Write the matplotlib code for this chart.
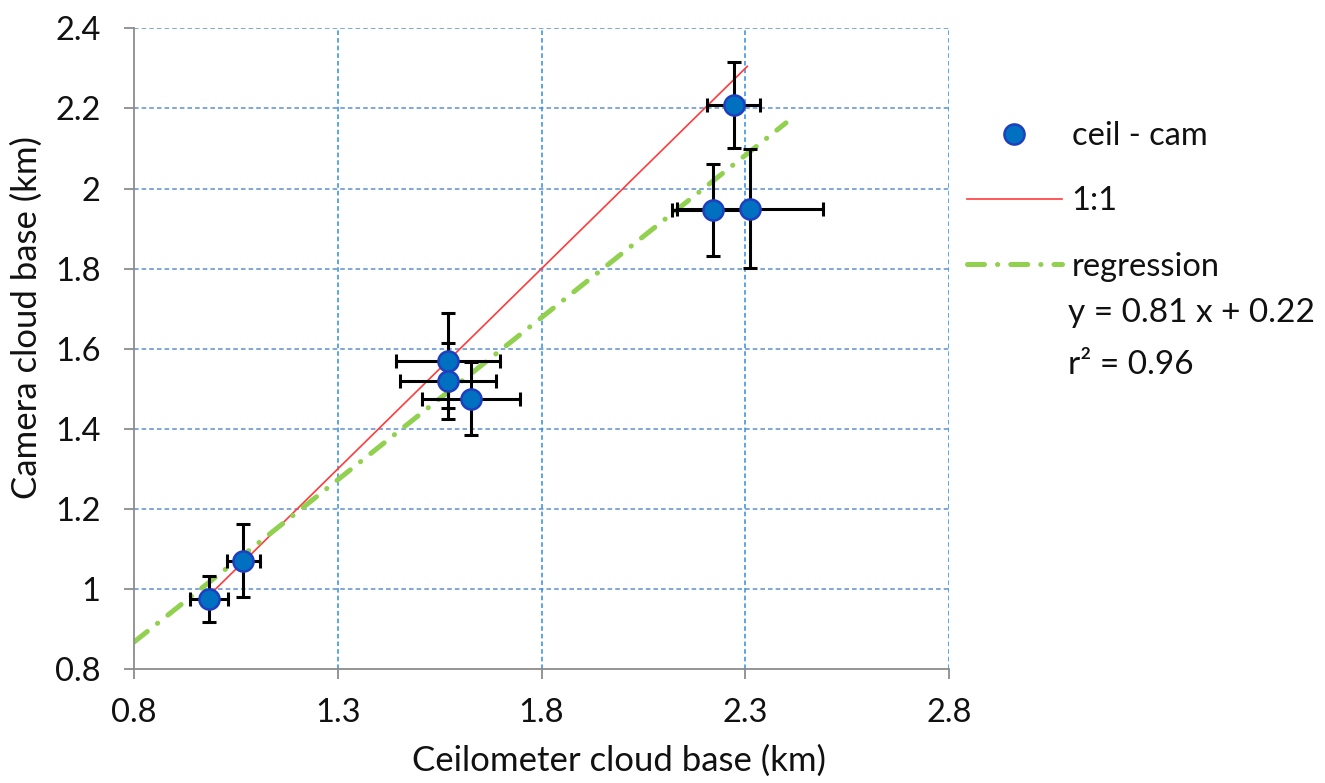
import matplotlib
matplotlib.use("Agg")
import matplotlib.pyplot as plt
import numpy as np

# Data
ceil_x = [0.984, 1.068, 1.571, 1.571, 1.627, 2.272, 2.220, 2.312]
cam_y = [0.975, 1.071, 1.570, 1.520, 1.475, 2.209, 1.947, 1.950]
x_err = [0.046, 0.041, 0.127, 0.118, 0.120, 0.065, 0.100, 0.180]
y_err = [0.058, 0.091, 0.119, 0.094, 0.091, 0.107, 0.115, 0.148]
one_to_one_range = [0.98, 2.305]
reg_slope = 0.81
reg_intercept = 0.22
reg_range = [0.8, 2.40]
x_ticks = [0.8, 1.3, 1.8, 2.3, 2.8]
y_ticks = [0.8, 1.0, 1.2, 1.4, 1.6, 1.8, 2.0, 2.2, 2.4]
y_tick_labels = ["0.8", "1", "1.2", "1.4", "1.6", "1.8", "2", "2.2", "2.4"]

plt.rcParams['font.family'] = ['Lato', 'DejaVu Sans']

FS = 23.5
TXT = '#111111'

fig = plt.figure(figsize=(13.25, 7.83), dpi=100)
ax = fig.add_axes([134/1325, 1-669.3/783, (949-134)/1325, (669.3-28.3)/783])

ax.set_xlim(0.8, 2.8)
ax.set_ylim(0.8, 2.4)

# grid
for yt in y_ticks[1:]:
    ax.axhline(yt, color='#5b8fd0', lw=1.1, ls=(0, (3, 2)), zorder=1)
for xt in x_ticks[1:]:
    ax.axvline(xt, color='#2f8ee0', lw=1.1, ls=(0, (3, 2)), zorder=1)

# 1:1 line
ax.plot(one_to_one_range, one_to_one_range, color='#ff3b3b', lw=1.2, zorder=2, label='1:1')

# regression
rx = np.array(reg_range)
ax.plot(rx, reg_slope*rx + reg_intercept, color='#92d050', lw=3.6,
        dashes=(3.4, 2.6, 0.05, 2.6), dash_capstyle='round', zorder=2, label='regression')

# error bars
ax.errorbar(ceil_x, cam_y, xerr=x_err, yerr=y_err, fmt='none', ecolor='black',
            elinewidth=2.2, capsize=5, capthick=2.2, zorder=3)
pts, = ax.plot(ceil_x, cam_y, 'o', ms=14.5, mfc='#0070c0', mec='#1f3fbf', mew=1.8,
               zorder=4, label='ceil - cam', ls='none')

# spines
for s in ['top', 'right']:
    ax.spines[s].set_visible(False)
for s in ['left', 'bottom']:
    ax.spines[s].set_color('#8c8c8c')
    ax.spines[s].set_linewidth(1.3)

ax.set_xticks(x_ticks)
ax.set_xticklabels([str(t) for t in x_ticks])
ax.set_yticks(y_ticks)
ax.set_yticklabels(y_tick_labels)
ax.tick_params(axis='both', direction='out', length=7, width=1.3, color='#8c8c8c',
               labelsize=FS, labelcolor=TXT)
ax.tick_params(axis='y', pad=17)
ax.tick_params(axis='x', pad=14)

ax.set_xlabel('Ceilometer cloud base (km)', fontsize=FS+1.5, color=TXT)
ax.xaxis.set_label_coords(0.595, -0.1175)
ax.set_ylabel('Camera cloud base (km)', fontsize=FS+1.5, color=TXT)
ax.yaxis.set_label_coords(-0.112, 0.549)

handles, labels = ax.get_legend_handles_labels()
order = [labels.index('ceil - cam'), labels.index('1:1'), labels.index('regression')]
leg = fig.legend([handles[i] for i in order], [labels[i] for i in order],
                 loc='upper left', bbox_to_anchor=(954/1325, 1-108/783),
                 frameon=False, fontsize=FS, handlelength=2.9, labelspacing=1.08,
                 handletextpad=0.3, borderaxespad=0)
for t in leg.get_texts():
    t.set_color(TXT)

fig.text(1068/1325, 1-313/783, 'y = 0.81 x + 0.22', fontsize=FS+0.5, color=TXT, va='center')
fig.text(1068/1325, 1-365/783, 'r² = 0.96', fontsize=FS+0.5, color=TXT, va='center')

fig.savefig('out.png', dpi=100)
